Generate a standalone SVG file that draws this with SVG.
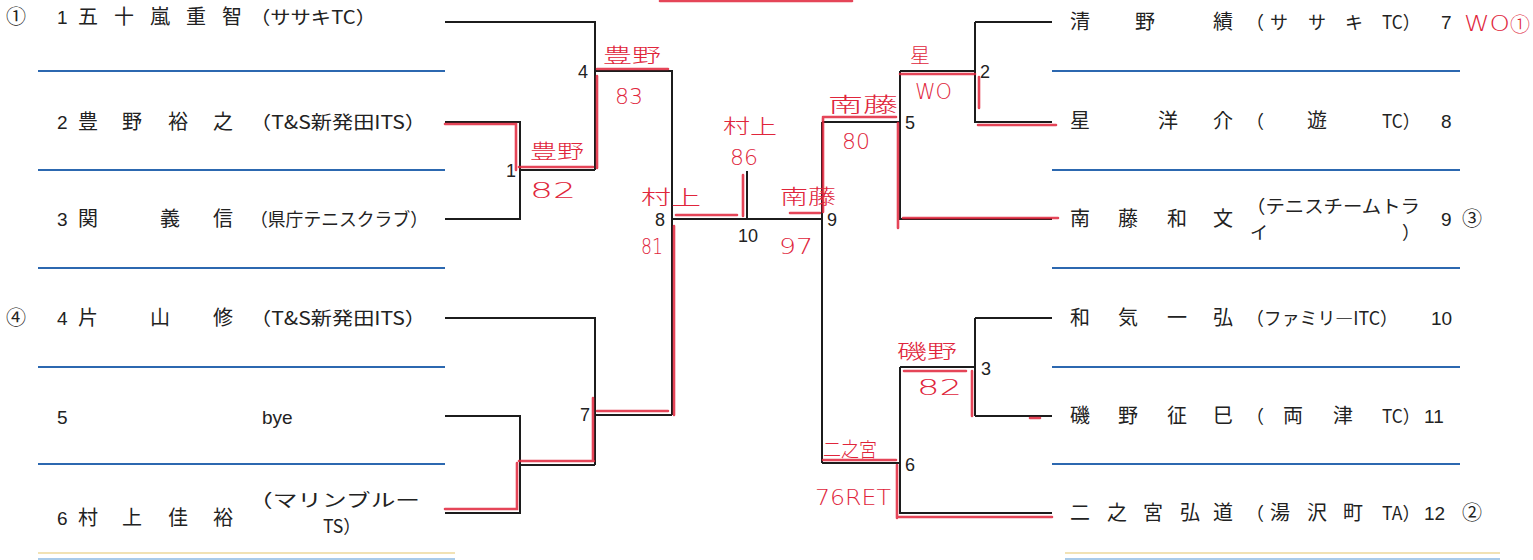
<svg xmlns="http://www.w3.org/2000/svg" width="1533" height="560" viewBox="0 0 1533 560">
<defs>
<style>
.bk{stroke:#1c1c1c;stroke-width:2;fill:none}
.bl{stroke:#2c68b0;stroke-width:2.2;fill:none}
.fl{stroke-width:2;fill:none}
.rd{stroke:#e0253b;stroke-width:2.6;fill:none;stroke-opacity:0.85;stroke-linecap:round}
.t{font-family:"Noto Sans CJK JP","Noto Sans CJK SC",sans-serif;font-size:20px;fill:#222}
.c{font-family:"Noto Sans CJK JP","Noto Sans CJK SC",sans-serif;font-size:18px;fill:#222}
.n{font-family:"Liberation Sans",Arial,sans-serif;font-size:19px;fill:#222}
.m{font-family:"Liberation Sans",Arial,sans-serif;font-size:18px;fill:#222}
.hw{font-family:"Noto Sans CJK JP","Noto Sans CJK SC",sans-serif;font-size:20px;fill:#e0253b;font-weight:300}
.hd{font-family:"DejaVu Sans",sans-serif;font-size:22px;fill:#e0253b;font-weight:300}
</style>
</defs>
<rect width="1533" height="560" fill="#ffffff"/>

<!-- top red box edge -->
<path d="M660,1 H852" class="rd" stroke-width="3"/>

<!-- blue separator lines -->
<g id="separators">
<path class="bl" d="M38,71 H445 M38,170 H445 M38,268 H445 M38,367 H445 M38,464 H445"/>
<path class="bl" d="M1052,71 H1460 M1052,170 H1460 M1052,268 H1460 M1052,367 H1460 M1052,464 H1460"/>
<path class="fl" stroke="#f2e2b4" d="M38,553 H455 M1065,553 H1500"/>
<path class="fl" stroke="#a9cbe9" d="M38,559 H455 M1065,559 H1500"/>
</g>

<!-- connectors (printed bracket) -->
<g id="connectors">
<path class="bk" d="M445,22 H595 V170 M445,122 H520 V219 H445 M520,170 H595 M595,71 H672 V415 M445,318 H595 V465 M445,416 H520 V513 H445 M520,465 H595 M595,415 H672 M672,219 H822 M747,171 V219"/>
<path class="bk" d="M822,122 V463 M822,122 H900 M900,71 V219 H1052 M900,71 H975 M975,22 H1052 M975,22 V122 H1052 M822,463 H900 M900,367 V513 H1052 M900,367 H975 M975,318 V416 M975,318 H1052 M975,416 H1052"/>
</g>

<!-- left players -->
<g id="p1">
<text class="t" x="6" y="24">①</text>
<text class="n" x="57" y="24">1</text>
<text class="t" x="78 114 150 186 222" y="24">五十嵐重智</text>
<text class="c" x="250" y="24" textLength="126" lengthAdjust="spacingAndGlyphs">（ササキTC）</text>
</g>
<g id="p2">
<text class="n" x="57" y="129">2</text>
<text class="t" x="78 122 168 213" y="129">豊野裕之</text>
<text class="c" x="250" y="129" textLength="176" lengthAdjust="spacingAndGlyphs">（T&amp;S新発田ITS）</text>
</g>
<g id="p3">
<text class="n" x="57" y="226">3</text>
<text class="t" x="78 160 213" y="226">関義信</text>
<text class="c" x="250" y="226" textLength="178" lengthAdjust="spacingAndGlyphs">（県庁テニスクラブ）</text>
</g>
<g id="p4">
<text class="t" x="6" y="325">④</text>
<text class="n" x="57" y="325">4</text>
<text class="t" x="78 150 213" y="325">片山修</text>
<text class="c" x="250" y="325" textLength="176" lengthAdjust="spacingAndGlyphs">（T&amp;S新発田ITS）</text>
</g>
<g id="p5">
<text class="n" x="57" y="424">5</text>
<text class="n" x="262" y="424">bye</text>
</g>
<g id="p6">
<text class="n" x="57" y="525">6</text>
<text class="t" x="78 122 168 213" y="525">村上佳裕</text>
<text class="c" x="248" y="507" textLength="172" lengthAdjust="spacingAndGlyphs">（マリンブルー</text>
<text class="c" x="323" y="533" textLength="38" lengthAdjust="spacingAndGlyphs">TS）</text>
</g>

<!-- right players -->
<g id="p7">
<text class="t" x="1070 1135 1213" y="29">清野績</text>
<text class="c" x="1246 1270 1308 1345" y="29">（ササキ</text>
<text class="c" x="1382" y="29" textLength="38" lengthAdjust="spacingAndGlyphs">TC）</text>
<text class="n" x="1441" y="29">7</text>
</g>
<g id="p8">
<text class="t" x="1070 1158 1213" y="128">星洋介</text>
<text class="c" x="1246" y="128">（</text>
<text class="t" x="1307" y="128">遊</text>
<text class="c" x="1382" y="128" textLength="38" lengthAdjust="spacingAndGlyphs">TC）</text>
<text class="n" x="1441" y="128">8</text>
</g>
<g id="p9">
<text class="t" x="1070 1118 1167 1213" y="226">南藤和文</text>
<text class="c" x="1246" y="213" textLength="174" lengthAdjust="spacingAndGlyphs">（テニスチームトラ</text>
<text class="c" x="1250" y="239">イ</text>
<text class="c" x="1402" y="239">）</text>
<text class="n" x="1441" y="226">9</text>
<text class="t" x="1462" y="226">③</text>
</g>
<g id="p10">
<text class="t" x="1070 1118 1167 1213" y="325">和気一弘</text>
<text class="c" x="1246" y="325" textLength="152" lengthAdjust="spacingAndGlyphs">（ファミリ―ITC）</text>
<text class="n" x="1431" y="325">10</text>
</g>
<g id="p11">
<text class="t" x="1070 1118 1167 1213" y="423">磯野征巳</text>
<text class="c" x="1246" y="423">（</text>
<text class="t" x="1283 1333" y="423">両津</text>
<text class="c" x="1382" y="423" textLength="38" lengthAdjust="spacingAndGlyphs">TC）</text>
<text class="n" x="1424" y="423">11</text>
</g>
<g id="p12">
<text class="t" x="1070 1107 1143 1180 1213" y="520">二之宮弘道</text>
<text class="c" x="1246" y="520">（</text>
<text class="t" x="1270 1307 1343" y="520">湯沢町</text>
<text class="c" x="1382" y="520" textLength="38" lengthAdjust="spacingAndGlyphs">TA）</text>
<text class="n" x="1424" y="520">12</text>
<text class="t" x="1462" y="520">②</text>
</g>

<!-- match numbers -->
<g id="m1"><text class="m" x="506" y="177">1</text></g>
<g id="m2"><text class="m" x="980" y="78">2</text></g>
<g id="m3"><text class="m" x="981" y="375">3</text></g>
<g id="m4"><text class="m" x="578" y="78">4</text></g>
<g id="m5"><text class="m" x="905" y="129">5</text></g>
<g id="m6"><text class="m" x="905" y="471">6</text></g>
<g id="m7"><text class="m" x="580" y="421">7</text></g>
<g id="m8"><text class="m" x="655" y="226">8</text></g>
<g id="m9"><text class="m" x="827" y="226">9</text></g>
<g id="m10"><text class="m" x="738" y="242">10</text></g>

<!-- handwritten red results -->
<g id="results">
<path class="rd" d="M445,124 H516 V170 M519,167 H593 M597,168 V76 M597,69 H668 M674,226 V415"/>
<path class="rd" d="M445,509 H517 V463 M519,461 H594 M593,461 V398 M597,411 H668"/>
<path class="rd" d="M676,215 H737 M743,175 V216 M790,213 H820"/>
<path class="rd" d="M823,212 V118 M823,117 H896 M898,123 V228 M903,218 H1058 M900,74 H975 M979,77 V108 M978,125 H1056"/>
<path class="rd" d="M823,460 H896 M897,465 V518 M897,517 H1052 M972,371 V416 M904,371 H966 M1030,418 H1040"/>
<text class="hw" x="603" y="63" textLength="58" lengthAdjust="spacingAndGlyphs">豊野</text>
<text class="hd" x="615" y="104">83</text>
<text class="hw" x="530" y="159" textLength="54" lengthAdjust="spacingAndGlyphs">豊野</text>
<text class="hd" x="530" y="198" textLength="46" lengthAdjust="spacingAndGlyphs">82</text>
<text class="hw" x="641" y="205" textLength="60" lengthAdjust="spacingAndGlyphs">村上</text>
<text class="hd" x="641" y="254" font-size="20" textLength="22" lengthAdjust="spacingAndGlyphs">81</text>
<text class="hw" x="723" y="134" textLength="54" lengthAdjust="spacingAndGlyphs">村上</text>
<text class="hd" x="730" y="165">86</text>
<text class="hw" x="780" y="204" textLength="56" lengthAdjust="spacingAndGlyphs">南藤</text>
<text class="hd" x="779" y="254" textLength="34" lengthAdjust="spacingAndGlyphs">97</text>
<text class="hw" x="828" y="112" textLength="70" lengthAdjust="spacingAndGlyphs">南藤</text>
<text class="hd" x="842" y="149">80</text>
<text class="hw" x="910" y="63" font-size="24">星</text>
<text class="hd" x="915" y="99" textLength="37" lengthAdjust="spacingAndGlyphs">WO</text>
<text class="hw" x="897" y="359" textLength="60" lengthAdjust="spacingAndGlyphs">磯野</text>
<text class="hd" x="917" y="395" textLength="45" lengthAdjust="spacingAndGlyphs">82</text>
<text class="hw" x="823" y="457" textLength="54" lengthAdjust="spacingAndGlyphs">二之宮</text>
<text class="hd" x="815" y="505" textLength="76" lengthAdjust="spacingAndGlyphs">76RET</text>
<text class="hd" x="1464" y="31" textLength="46" lengthAdjust="spacingAndGlyphs">WO</text>
<text class="hw" x="1510" y="32">①</text>
</g>
</svg>
